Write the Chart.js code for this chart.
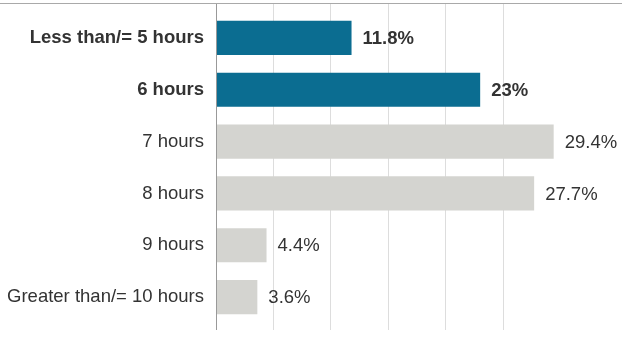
<!DOCTYPE html>
<html>
<head>
<meta charset="utf-8">
<script src="https://cdn.jsdelivr.net/npm/chart.js@4.4.1/dist/chart.umd.min.js"></script>
<style>
  html, body { margin: 0; padding: 0; background: #fff; }
  #wrap { position: relative; width: 622px; height: 352px; }
  #topRule { position: absolute; left: 0; right: 0; top: 3px; border-top: 1px solid #a9a9a9; }
  #sleepChart { position: absolute; left: 0; top: 0; }
</style>
</head>
<body>
<div id="wrap">
  <div id="topRule"></div>
  <canvas id="sleepChart" width="622" height="352"></canvas>
</div>
<script>
// Share of respondents by hours of sleep
const categories = ['Less than/= 5 hours', '6 hours', '7 hours', '8 hours', '9 hours', 'Greater than/= 10 hours'];
const shares = [11.8, 23, 29.4, 27.7, 4.4, 3.6];
const valueLabels = ['11.8%', '23%', '29.4%', '27.7%', '4.4%', '3.6%'];
const highlighted = [true, true, false, false, false, false];

const BLUE = '#0b6d91';
const GRAY = '#d4d4d0';
const TEXT = '#333333';
const FONT = "'Liberation Sans', Arial, sans-serif";
const FONT_SIZE = 18.5;

function gridColor(ctx) {
    if (!ctx.tick) return 'transparent';
    if (ctx.tick.value === 0) return '#999999';
    return ctx.tick.value <= 25 ? '#dddddd' : 'transparent';
}

// value labels to the right of each bar
const barLabels = {
    id: 'barLabels',
    afterDatasetsDraw(chart) {
        const ctx = chart.ctx;
        const meta = chart.getDatasetMeta(0);
        ctx.save();
        ctx.fillStyle = TEXT;
        ctx.textAlign = 'left';
        ctx.textBaseline = 'middle';
        meta.data.forEach((bar, i) => {
            ctx.font = (highlighted[i] ? 'bold ' : '') + FONT_SIZE + 'px ' + FONT;
            ctx.fillText(valueLabels[i], bar.x + 11, bar.y + 1);
        });
        ctx.restore();
    }
};

new Chart(document.getElementById('sleepChart'), {
    type: 'bar',
    data: {
        labels: categories,
        datasets: [{
            data: shares,
            backgroundColor: highlighted.map(h => h ? BLUE : GRAY),
            borderWidth: 0,
            barPercentage: 0.66,
            categoryPercentage: 1
        }]
    },
    options: {
        indexAxis: 'y',
        responsive: false,
        animation: false,
        layout: { padding: { top: 4, bottom: 22, left: 0, right: 4 } },
        plugins: {
            legend: { display: false },
            tooltip: { enabled: false }
        },
        scales: {
            x: {
                min: 0,
                max: 35,
                ticks: { display: false, stepSize: 5 },
                grid: { color: gridColor, drawTicks: true, tickLength: 7 },
                border: { display: false }
            },
            xTop: {
                type: 'linear',
                position: 'top',
                axis: 'x',
                min: 0,
                max: 35,
                ticks: { display: false, stepSize: 5 },
                grid: { color: gridColor, drawOnChartArea: false, drawTicks: true, tickLength: 8 },
                border: { display: false }
            },
            y: {
                grid: { display: false, drawTicks: false },
                border: { display: true, color: '#999999', z: 1 },
                ticks: {
                    padding: 12,
                    color: TEXT,
                    font: (ctx) => ({
                        family: FONT,
                        size: FONT_SIZE,
                        weight: highlighted[ctx.index] ? 'bold' : 'normal'
                    })
                },
                afterFit: (scale) => {
                    scale.width = 216;
                    scale.paddingTop = 0;
                    scale.paddingBottom = 0;
                }
            }
        }
    },
    plugins: [barLabels]
});
</script>
</body>
</html>
